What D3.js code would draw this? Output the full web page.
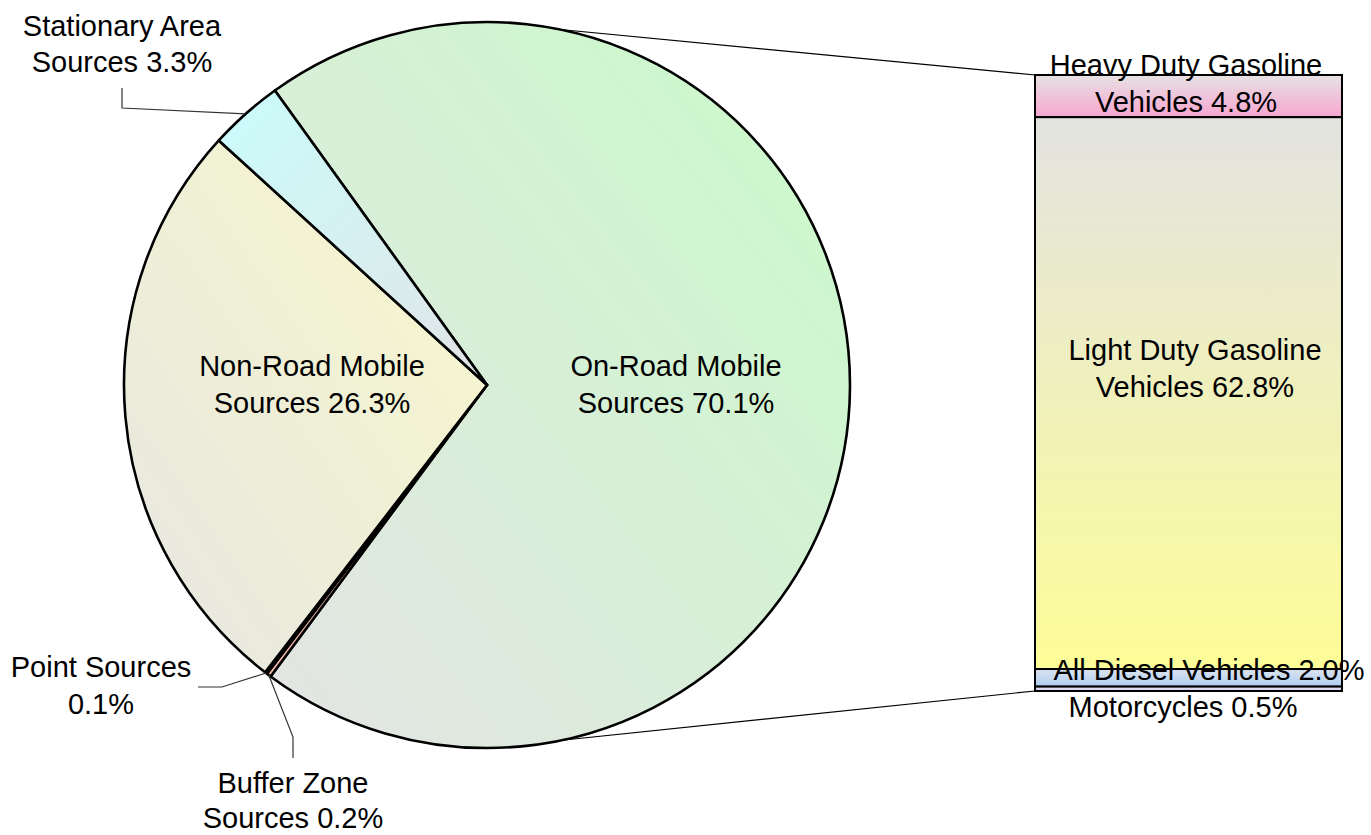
<!DOCTYPE html>
<html><head><meta charset="utf-8">
<script src="https://cdn.jsdelivr.net/npm/d3@7"></script>
<style>
body{margin:0;background:#fff}
text{font-family:"Liberation Sans",Arial,sans-serif;font-size:29px;fill:#000}
</style>
</head><body><svg id="c" width="1371" height="835"></svg>
<script>
// ---- data ----
const pieCategories = ["On-Road Mobile Sources","Buffer Zone Sources","Point Sources","Non-Road Mobile Sources","Stationary Area Sources"];
const pieValues = [70.1, 0.2, 0.1, 26.3, 3.3];
const pieLabels = [["On-Road Mobile","Sources 70.1%"],["Buffer Zone","Sources 0.2%"],["Point Sources","0.1%"],["Non-Road Mobile","Sources 26.3%"],["Stationary Area","Sources 3.3%"]];
const barCategories = ["Heavy Duty Gasoline Vehicles","Light Duty Gasoline Vehicles","All Diesel Vehicles","Motorcycles"];
const barValues = [4.8, 62.8, 2.0, 0.5];
const barLabels = [["Heavy Duty Gasoline","Vehicles 4.8%"],["Light Duty Gasoline","Vehicles 62.8%"],["All Diesel Vehicles 2.0%"],["Motorcycles 0.5%"]];

// ---- layout / style ----
const cx = 487, cy = 385, R = 363;
const deg = Math.PI/180;
const startA = -35.76*deg;
const pieGrad = [
  {c0:"#e4e4e4", c1:"#c9fbc9", x1:0,y1:1,x2:1,y2:0},
  {c0:"#f2b6a6", c1:"#f6c4b8", x1:0,y1:1,x2:1,y2:0},
  {c0:"#f2b6a6", c1:"#f6c4b8", x1:0,y1:1,x2:1,y2:0},
  {c0:"#e6e6e2", c1:"#f9f9cb", x1:0,y1:1,x2:1,y2:0},
  {c0:"#cafcfc", c1:"#e2e4e6", x1:0,y1:0,x2:1,y2:1}
];
const pieLabelPos = [
  {x:676, y:376, lh:37},
  {x:293, y:793, lh:35},
  {x:101, y:677, lh:37},
  {x:312, y:376, lh:37},
  {x:122, y:36, lh:36}
];
const leaders = {
  4: [[122,88],[122,108]],
  2: [[198,687],[222,687]],
  1: [[293,758],[293,737]]
};
const barX0 = 1035, barX1 = 1342, barTop = 75, barBottom = 691;
const barGrad = [
  {c0:"#e6e2e4", c1:"#f8a6cf"},
  {c0:"#e3e3e1", c1:"#fdfd98"},
  {c0:"#dde4ee", c1:"#acccf2"},
  {c0:"#dcdcf6", c1:"#d6d6f4"}
];
const barLabelPos = [
  {x:1186, y:75, lh:37},
  {x:1195, y:360, lh:37},
  {x:1209, y:680, lh:37},
  {x:1183, y:717, lh:37}
];

const svg = d3.select("#c");
const defs = svg.append("defs");

const pt = (a, r) => [cx + r*Math.sin(a), cy - r*Math.cos(a)];

// ---- pie ----
const pie = d3.pie().sort(null).value(d=>d).startAngle(startA).endAngle(startA + 2*Math.PI);
const arcs = pie(pieValues);
const arc = d3.arc().innerRadius(0).outerRadius(R);

pieGrad.forEach((g,i)=>{
  const lg = defs.append("linearGradient").attr("id","pg"+i)
    .attr("x1",g.x1).attr("y1",g.y1).attr("x2",g.x2).attr("y2",g.y2);
  lg.append("stop").attr("offset","0%").attr("stop-color",g.c0);
  lg.append("stop").attr("offset","100%").attr("stop-color",g.c1);
});
barGrad.forEach((g,i)=>{
  const lg = defs.append("linearGradient").attr("id","bg"+i)
    .attr("x1",0).attr("y1",0).attr("x2",0).attr("y2",1);
  lg.append("stop").attr("offset","0%").attr("stop-color",g.c0);
  lg.append("stop").attr("offset","100%").attr("stop-color",g.c1);
});

// connector lines (behind pie)
const barY = d3.scaleLinear().domain([0, d3.sum(barValues)]).range([barTop, barBottom]);
const topPt = pt(10*deg, R-1), botPt = pt(170*deg, R-1);
svg.append("line").attr("x1",topPt[0]).attr("y1",topPt[1]).attr("x2",barX0).attr("y2",barY(0))
  .attr("stroke","#000").attr("stroke-width",1.2);
svg.append("line").attr("x1",botPt[0]).attr("y1",botPt[1]).attr("x2",barX0).attr("y2",barY(d3.sum(barValues)))
  .attr("stroke","#000").attr("stroke-width",1.2);

svg.append("g").attr("transform",`translate(${cx},${cy})`)
  .selectAll("path").data(arcs).join("path")
  .attr("d",arc)
  .attr("fill",(d,i)=>`url(#pg${i})`)
  .attr("stroke","#000").attr("stroke-width",2.6).attr("stroke-linejoin","round");

// leader lines
Object.keys(leaders).forEach(k=>{
  const a = arcs[+k];
  const mid = (a.startAngle + a.endAngle)/2;
  const pts = leaders[k].concat([pt(mid, R)]);
  svg.append("path").attr("d", d3.line()(pts))
    .attr("fill","none").attr("stroke","#333").attr("stroke-width",1.2);
});

// pie labels
pieLabels.forEach((lines,i)=>{
  const p = pieLabelPos[i];
  const t = svg.append("text").attr("text-anchor","middle");
  lines.forEach((s,j)=>t.append("tspan").attr("x",p.x).attr("y",p.y + j*p.lh).text(s));
});

// ---- bar ----
let acc = 0;
const segs = barValues.map(v=>{ const s = {y0:acc, y1:acc+v}; acc += v; return s; });
svg.append("g").selectAll("rect").data(segs).join("rect")
  .attr("x",barX0).attr("width",barX1-barX0)
  .attr("y",d=>barY(d.y0)).attr("height",d=>barY(d.y1)-barY(d.y0))
  .attr("fill",(d,i)=>`url(#bg${i})`)
  .attr("stroke","#000").attr("stroke-width",2);

barLabels.forEach((lines,i)=>{
  const p = barLabelPos[i];
  const t = svg.append("text").attr("text-anchor","middle");
  lines.forEach((s,j)=>t.append("tspan").attr("x",p.x).attr("y",p.y + j*p.lh).text(s));
});
</script>
</body></html>
